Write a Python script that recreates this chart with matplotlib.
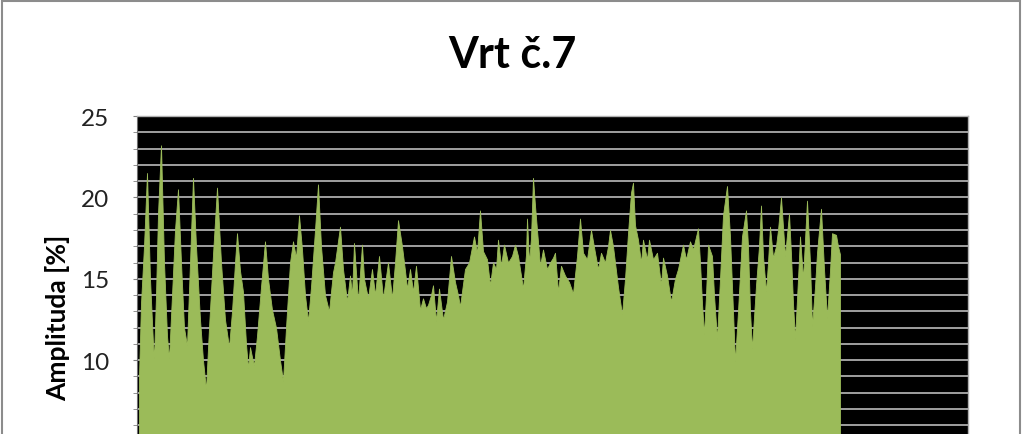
import matplotlib
matplotlib.use("Agg")
import matplotlib.pyplot as plt
from matplotlib.patches import Rectangle
from matplotlib.ticker import MultipleLocator

plt.rcParams['font.family'] = ['Lato', 'DejaVu Sans']

title = "Vrt č.7"
ylabel = "Amplituda [%]"
y_ticks = [5, 10, 15, 20, 25]

depth = [139, 141, 144, 147, 150, 153, 154, 156, 158, 161, 164, 167, 169, 172, 175, 178,
         181, 184, 187, 190, 193, 196, 200, 203, 206, 209, 213, 217, 221, 225, 229, 232,
         235, 237, 240, 243, 246, 248, 250, 252, 254, 257, 261, 265, 268, 272, 276, 280,
         283, 286, 290, 293, 296, 299, 302, 305, 308, 311, 315, 318, 321, 325, 329, 333,
         335, 340, 343, 347, 350, 352, 354, 358, 362, 364, 368, 372, 375, 379, 383, 388,
         392, 395, 398, 402, 405, 407, 410, 413, 416, 420, 423, 426, 428, 431, 433, 436,
         439, 443, 447, 451, 455, 458, 460, 465, 469, 474, 477, 480, 483, 487, 490, 493,
         496, 498, 501, 504, 508, 512, 515, 518, 521, 523, 526, 527, 529, 531, 533, 535,
         537, 540, 543, 547, 550, 553, 555, 558, 561, 565, 569, 573, 577, 580, 583, 587,
         591, 595, 598, 601, 605, 608, 610, 613, 615, 618, 622, 625, 628, 631, 633, 635,
         638, 641, 643, 647, 649, 653, 657, 661, 663, 667, 671, 675, 678, 683, 686, 690,
         693, 698, 700, 702, 704, 706, 708, 712, 714, 717, 720, 723, 727, 730, 733, 735,
         738, 742, 746, 748, 750, 752, 756, 759, 761, 763, 766, 768, 770, 773, 776, 778,
         781, 785, 789, 791, 793, 795, 798, 800, 803, 807, 810, 812, 815, 817, 821, 824,
         827, 830, 832, 836, 838, 840]

amplitude = [9.0, 13.5, 17.0, 21.5, 15.0, 11.0, 10.1, 14.0, 19.0, 23.2, 16.0, 11.5, 10.1, 14.0, 18.0, 20.5,
             16.0, 12.0, 10.9, 16.0, 21.2, 17.0, 12.5, 10.0, 8.2, 12.0, 16.5, 20.6, 16.0, 12.5, 10.8, 13.0,
             16.0, 17.8, 15.5, 14.2, 11.0, 9.5, 10.8, 10.2, 9.7, 11.5, 14.5, 17.3, 15.0, 13.1, 12.0, 10.0,
             8.7, 12.0, 16.0, 17.3, 16.3, 18.9, 16.8, 14.0, 12.4, 14.5, 18.0, 20.8, 17.0, 14.0, 13.0, 15.4,
             16.0, 18.2, 15.6, 13.6, 15.2, 14.0, 17.2, 13.6, 17.1, 15.0, 13.8, 15.6, 14.0, 16.4, 13.8, 16.0,
             13.8, 16.0, 18.6, 17.0, 15.5, 14.4, 15.6, 14.2, 15.8, 13.1, 13.8, 13.2, 13.4, 14.0, 14.6, 12.4,
             14.4, 12.5, 13.6, 16.4, 14.8, 14.0, 13.3, 15.6, 16.0, 17.6, 16.6, 19.2, 16.7, 16.2, 14.6, 16.0,
             15.6, 17.4, 15.8, 17.1, 16.0, 16.4, 17.1, 16.4, 15.2, 14.4, 16.5, 18.7, 16.0, 17.5, 21.2, 19.5,
             18.0, 15.8, 16.8, 15.6, 16.0, 16.3, 16.6, 14.2, 15.8, 15.2, 14.8, 14.1, 16.4, 18.7, 16.6, 16.2,
             18.0, 16.6, 15.6, 16.6, 16.0, 17.0, 18.0, 17.0, 16.0, 14.5, 12.8, 15.0, 17.8, 20.3, 20.9, 18.3,
             17.4, 16.0, 17.4, 16.2, 17.4, 16.2, 16.6, 14.6, 16.3, 15.2, 13.6, 15.0, 15.6, 17.1, 16.2, 17.3,
             16.8, 18.1, 16.0, 13.5, 11.6, 14.0, 17.1, 16.4, 14.0, 11.3, 15.0, 18.9, 20.7, 17.6, 13.0, 9.9,
             13.0, 17.6, 19.2, 17.0, 13.0, 10.7, 14.6, 17.0, 19.5, 16.4, 14.2, 16.0, 18.2, 16.3, 17.0, 18.0,
             20.0, 16.4, 19.0, 16.5, 13.5, 11.3, 15.0, 17.6, 15.0, 19.8, 16.0, 12.1, 14.5, 16.6, 19.3, 15.6,
             12.6, 15.5, 17.8, 17.7, 17.0, 16.5]

W, H = 1024, 435
fig = plt.figure(figsize=(W / 100, H / 100), dpi=100)
fig.patch.set_facecolor('white')

# axes: top at y=117px, value 0 at y=524px (below the visible image)
left, right, top, bottom = 137, 968, 117, 524
ax = fig.add_axes([left / W, (H - bottom) / H, (right - left) / W, (bottom - top) / H])
ax.set_facecolor('black')
ax.fill_between(depth, amplitude, 0, color='#9BBB59', linewidth=0.6,
                edgecolor='#9BBB59', zorder=2)

ax.set_xlim(137, 968)
ax.set_ylim(0, 25)
ax.set_yticks(y_ticks)
ax.set_yticklabels([str(t) for t in y_ticks])
ax.yaxis.set_minor_locator(MultipleLocator(1))
ax.set_xticks([])
ax.grid(True, which='both', axis='y', color='#acacac', linewidth=1.3)
ax.set_axisbelow(True)
ax.tick_params(axis='y', which='both', direction='out', length=3, color='#808080',
               labelsize=17.5, pad=17, labelcolor='#222222')
for s in ['top', 'right']:
    ax.spines[s].set_color('#b0b0b0')
    ax.spines[s].set_linewidth(1.0)
ax.spines['left'].set_color('#707070')
ax.spines['bottom'].set_color('#707070')

fig.text(58 / W, 1 - 318 / H, ylabel, rotation=90, ha='center', va='center',
         fontsize=19, fontweight='bold', color='black')
fig.text(0.5, 1 - 55 / H, title, ha='center', va='center', fontsize=31,
         fontweight='bold', color='black')

fig.add_artist(Rectangle((2 / W, -0.1), 1018 / W, 1.1 - 1.5 / H, transform=fig.transFigure,
                         fill=False, edgecolor='#8c8c8c', linewidth=1.5))

fig.savefig('out.png', dpi=100)
